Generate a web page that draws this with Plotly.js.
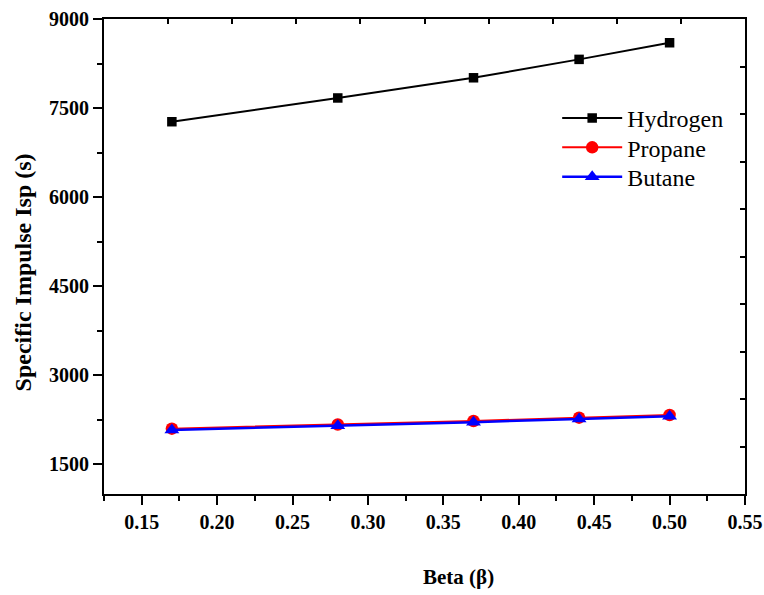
<!DOCTYPE html>
<html>
<head>
<meta charset="utf-8">
<script src="https://cdn.plot.ly/plotly-3.0.1.min.js"></script>
<style>html,body{margin:0;padding:0;background:#fff;}#chart{width:764px;height:595px;}</style>
</head>
<body>
<div id="chart"></div>
<script>
const beta = [0.17, 0.28, 0.37, 0.44, 0.50];
const hydrogen = [7270, 7670, 8010, 8320, 8600];
const propane = [2100, 2170, 2230, 2285, 2330];
const butane = [2080, 2150, 2210, 2265, 2310];
const seriesNames = ['Hydrogen', 'Propane', 'Butane'];
const xTitle = 'Beta (β)';
const yTitle = 'Specific Impulse Isp (s)';

const serif = 'Liberation Serif, Times New Roman, serif';
const fontBold = {family: serif, size: 20, color: '#000', weight: 'bold'};

const traces = [
  {x: beta, y: hydrogen, name: seriesNames[0], mode: 'lines+markers', legend: 'legend',
   line: {color: '#000000', width: 2}, marker: {symbol: 'square', size: 9.5, color: '#000000'}},
  {x: beta, y: propane, name: seriesNames[1], mode: 'lines+markers', legend: 'legend2',
   line: {color: '#ff0000', width: 2}, marker: {symbol: 'circle', size: 12.5, color: '#ff0000'}},
  {x: beta, y: butane, name: seriesNames[2], mode: 'lines+markers', legend: 'legend3',
   line: {color: '#0000ff', width: 2.5}, marker: {symbol: 'triangle-up', size: 13, color: '#0000ff'}},
  {x: [], y: [], xaxis: 'x2', yaxis: 'y2', showlegend: false, hoverinfo: 'skip', mode: 'lines'}
];

const legendBase = {xanchor: 'left', yanchor: 'middle', bgcolor: 'rgba(0,0,0,0)', borderwidth: 0,
  font: {family: serif, size: 24, color: '#000'}, itemwidth: 60};

const layout = {
  width: 764, height: 595,
  margin: {l: 104, r: 19, t: 19, b: 101, pad: 0},
  paper_bgcolor: '#fff', plot_bgcolor: '#fff',
  showlegend: true,
  legend: Object.assign({}, legendBase, {x: 0.707, y: 0.791}),
  legend2: Object.assign({}, legendBase, {x: 0.707, y: 0.729}),
  legend3: Object.assign({}, legendBase, {x: 0.707, y: 0.667}),
  xaxis: {
    range: [0.125, 0.55], tick0: 0.15, dtick: 0.05, tickformat: '.2f',
    ticks: 'outside', ticklen: 9, tickwidth: 2, tickcolor: '#000',
    minor: {dtick: 0.025, tick0: 0.125, ticks: 'outside', ticklen: 5, tickwidth: 2, tickcolor: '#000', showgrid: false},
    showline: true, linewidth: 2, linecolor: '#000', showgrid: false, zeroline: false,
    tickfont: fontBold
  },
  yaxis: {
    range: [1000, 9000], tick0: 1500, dtick: 1500,
    ticks: 'outside', ticklen: 9, tickwidth: 2, tickcolor: '#000',
    minor: {dtick: 750, tick0: 1500, ticks: 'outside', ticklen: 5, tickwidth: 2, tickcolor: '#000', showgrid: false},
    showline: true, linewidth: 2, linecolor: '#000', showgrid: false, zeroline: false,
    tickfont: fontBold, ticklabelstandoff: 0
  },
  xaxis2: {
    overlaying: 'x', side: 'top', anchor: 'y', range: [0, 10], dtick: 1,
    ticks: 'inside', ticklen: 5, tickwidth: 2, tickcolor: '#000',
    showticklabels: false, showline: true, linewidth: 2, linecolor: '#000', showgrid: false, zeroline: false
  },
  yaxis2: {
    overlaying: 'y', side: 'right', anchor: 'x', range: [0, 10], dtick: 1,
    ticks: 'inside', ticklen: 5, tickwidth: 2, tickcolor: '#000',
    showticklabels: false, showline: true, linewidth: 2, linecolor: '#000', showgrid: false, zeroline: false
  },
  annotations: [
    {text: yTitle, xref: 'paper', yref: 'paper', x: -0.126, y: 0.467, xanchor: 'center', yanchor: 'middle',
     textangle: -90, showarrow: false, font: {family: serif, size: 24, color: '#000', weight: 'bold'}},
    {text: xTitle, xref: 'paper', yref: 'paper', x: 0.553, y: -0.175, xanchor: 'center', yanchor: 'middle',
     showarrow: false, font: {family: serif, size: 21, color: '#000', weight: 'bold'}}
  ]
};

Plotly.newPlot('chart', traces, layout, {displayModeBar: false, staticPlot: true});
</script>
</body>
</html>
